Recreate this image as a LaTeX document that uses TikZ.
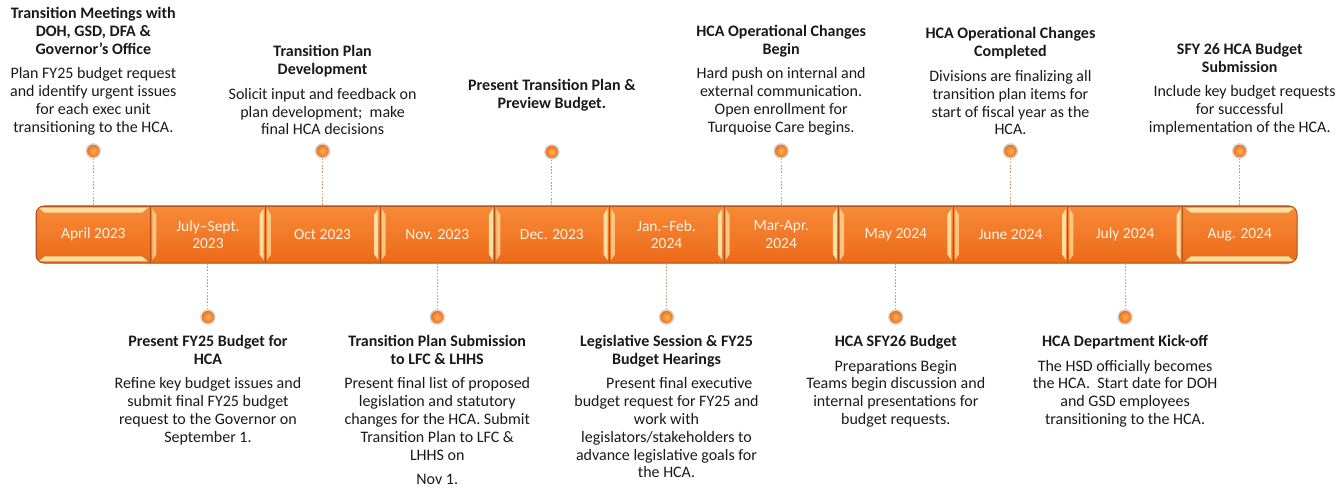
\documentclass[tikz,border=0pt]{standalone}
\usepackage{fontspec}
\setmainfont{Carlito}
\usepackage{tikz}
\usetikzlibrary{shapes,arrows,positioning,calc,fit}
\usepackage{xcolor}

\definecolor{barTop}{RGB}{247,138,56}
\definecolor{barBot}{RGB}{236,106,24}
\definecolor{barEdge}{RGB}{176,84,28}
\definecolor{bevelLight}{RGB}{255,222,160}
\definecolor{stemColor}{RGB}{205,150,125}
\definecolor{dateText}{RGB}{255,242,225}
\definecolor{dotInner}{RGB}{255,180,90}
\definecolor{dotOuter}{RGB}{238,104,18}
\definecolor{txtDark}{RGB}{25,25,25}

\begin{document}
\begin{tikzpicture}[x=1pt, y=1pt]
    \tikzstyle{seg} = [rectangle, draw=barEdge, line width=0.6pt, top color=barTop, bottom color=barBot, minimum width=114.64pt, minimum height=57pt, inner sep=0pt, align=center, text=dateText, font=\fontsize{15.5}{17.5}\selectfont]
    \tikzstyle{dot} = [circle, draw=gray!35, line width=1.5pt, inner color=dotInner, outer color=dotOuter, minimum size=14pt, inner sep=0pt]
    \tikzstyle{stem} = [draw=stemColor, line width=1pt, dash pattern=on 1.6pt off 1.6pt]
    \tikzstyle{event} = [align=center, inner sep=0pt, text=txtDark, font=\fontsize{16}{17.8}\selectfont]

    \useasboundingbox (0,0) rectangle (1344,488);

    % Zeitleiste
    \coordinate (barSW) at (36,225);
    \coordinate (barNE) at (1297,282);
    \begin{scope}
        \clip[rounded corners=8pt] (barSW) rectangle (barNE);
        \foreach \i/\lab in {1/April 2023, 2/{July--Sept.\\2023}, 3/Oct 2023, 4/Nov. 2023, 5/Dec. 2023, 6/{Jan.--Feb.\\2024}, 7/{Mar-Apr.\\2024}, 8/May 2024, 9/June 2024, 10/July 2024, 11/Aug. 2024} {
            \pgfmathsetmacro\x{36+57.32+114.64*(\i-1)}
            \node[seg] (seg\i) at (\x,253.5) {\lab};
        }
        % Kanten
        \foreach \i in {1,11} {
            \fill[bevelLight] ($(seg\i.north west)+(3,-2)$) -- ($(seg\i.north east)+(-3,-2)$) -- ($(seg\i.north east)+(-9,-7)$) -- ($(seg\i.north west)+(9,-7)$) -- cycle;
            \fill[bevelLight] ($(seg\i.south west)+(3,2)$) -- ($(seg\i.south east)+(-3,2)$) -- ($(seg\i.south east)+(-9,7)$) -- ($(seg\i.south west)+(9,7)$) -- cycle;
        }
        \foreach \i in {2,...,10} {
            \fill[bevelLight, opacity=0.75] ($(seg\i.north west)+(2,-3)$) -- ($(seg\i.north west)+(6,-9)$) -- ($(seg\i.south west)+(6,9)$) -- ($(seg\i.south west)+(2,3)$) -- cycle;
            \fill[bevelLight] ($(seg\i.north east)+(-2,-3)$) -- ($(seg\i.north east)+(-6,-9)$) -- ($(seg\i.south east)+(-6,9)$) -- ($(seg\i.south east)+(-2,3)$) -- cycle;
        }
    \end{scope}
    \draw[barEdge, line width=1pt, rounded corners=8pt] (barSW) rectangle (barNE);

    % Punkte
    \node[dot, above=47pt of seg1] (d1) {};
    \node[dot, above=47pt of seg3] (d3) {};
    \node[dot, above=46pt of seg5] (d5) {};
    \node[dot, above=47pt of seg7] (d7) {};
    \node[dot, above=47pt of seg9] (d9) {};
    \node[dot, above=47pt of seg11] (d11) {};
    \node[dot, below=46pt of seg2] (d2) {};
    \node[dot, below=46pt of seg4] (d4) {};
    \node[dot, below=46pt of seg6] (d6) {};
    \node[dot, below=46pt of seg8] (d8) {};
    \node[dot, below=46pt of seg10] (d10) {};

    \foreach \i in {1,...,11} {
        \draw[stem] (d\i) -- (seg\i);
    }

    % Texte oben
    \node[event, above=8pt of d1] (t1) {\textbf{Transition Meetings with}\\\textbf{DOH, GSD, DFA \&}\\\textbf{Governor’s Office}\\[7pt]
        Plan FY25 budget request\\and identify urgent issues\\for each exec unit\\transitioning to the HCA.};
    \node[event, above=8pt of d3] (t3) {\textbf{Transition Plan}\\\textbf{Development}\\[7pt]
        Solicit input and feedback on\\plan development;\ \ make\\final HCA decisions};
    \node[event, above=33pt of d5] (t5) {\textbf{Present Transition Plan \&}\\\textbf{Preview Budget.}};
    \node[event, above=8pt of d7] (t7) {\textbf{HCA Operational Changes}\\\textbf{Begin}\\[7pt]
        Hard push on internal and\\external communication.\\Open enrollment for\\Turquoise Care begins.};
    \node[event, above=8pt of d9] (t9) {\textbf{HCA Operational Changes}\\\textbf{Completed}\\[7pt]
        Divisions are finalizing all\\transition plan items for\\start of fiscal year as the\\HCA.};
    \node[event, above=8pt of d11] (t11) {\textbf{SFY 26 HCA Budget}\\\textbf{Submission}\\[7pt]
        \hspace*{0.6em}Include key budget requests\\for successful\\implementation of the HCA.};

    % Texte unten
    \node[event, below=10pt of d2] (t2) {\textbf{Present FY25 Budget for}\\\textbf{HCA}\\[7pt]
        Refine key budget issues and\\submit final FY25 budget\\request to the Governor on\\September 1.};
    \node[event, below=10pt of d4] (t4) {\textbf{Transition Plan Submission}\\\textbf{to LFC \& LHHS}\\[7pt]
        Present final list of proposed\\legislation and statutory\\changes for the HCA. Submit\\Transition Plan to LFC \&\\LHHS on\\[7pt]Nov 1.};
    \node[event, below=10pt of d6] (t6) {\textbf{Legislative Session \& FY25}\\\textbf{Budget Hearings}\\[7pt]
        \hspace*{1.6em}Present final executive\\budget request for FY25 and\\work with\\legislators/stakeholders to\\advance legislative goals for\\the HCA.};
    \node[event, below=10pt of d8] (t8) {\textbf{HCA SFY26 Budget}\\[7pt]
        Preparations Begin\\Teams begin discussion and\\internal presentations for\\budget requests.};
    \node[event, below=10pt of d10] (t10) {\textbf{HCA Department Kick-off}\\[7pt]
        The HSD officially becomes\\the HCA.\ \ Start date for DOH\\and GSD employees\\transitioning to the HCA.};
\end{tikzpicture}
\end{document}
